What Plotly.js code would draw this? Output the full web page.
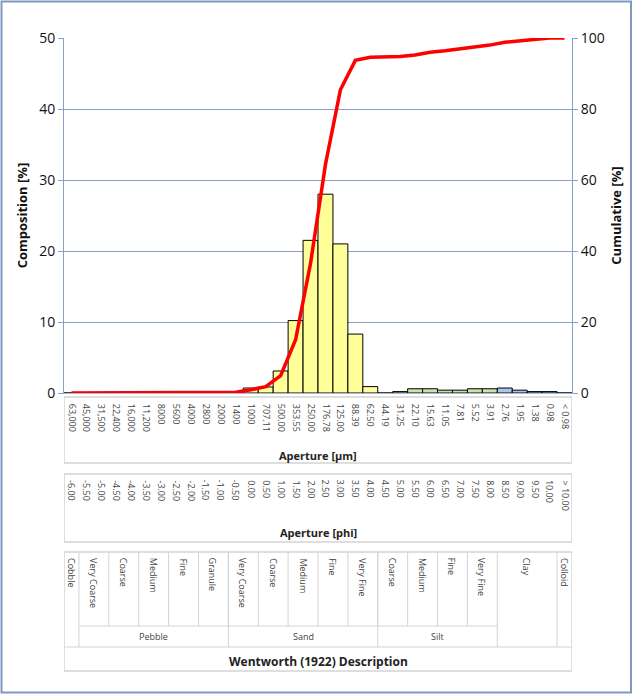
<!DOCTYPE html>
<html><head><meta charset="utf-8">
<script src="https://cdn.plot.ly/plotly-3.0.1.min.js"></script>
<style>html,body{margin:0;padding:0;background:#fff}#chart{width:633px;height:695px}</style>
</head><body><div id="chart"></div>
<script>
// ---- data ----
const apertureUm = ["63,000","45,000","31,500","22,400","16,000","11,200","8000","5600","4000","2800","2000","1400","1000","707.11","500.00","353.55","250.00","176.78","125.00","88.39","62.50","44.19","31.25","22.10","15.63","11.05","7.81","5.52","3.91","2.76","1.95","1.38","0.98","< 0.98"];
const aperturePhi = ["-6.00","-5.50","-5.00","-4.50","-4.00","-3.50","-3.00","-2.50","-2.00","-1.50","-1.00","-0.50","0.00","0.50","1.00","1.50","2.00","2.50","3.00","3.50","4.00","4.50","5.00","5.50","6.00","6.50","7.00","7.50","8.00","8.50","9.00","9.50","10.00","> 10.00"];
const composition = [0,0,0,0,0,0,0,0,0,0,0,0,0.7,0.85,3.1,10.2,21.5,28.0,21.0,8.3,0.9,0,0.2,0.6,0.6,0.4,0.4,0.6,0.6,0.7,0.4,0.2,0.2,0];
const cumulative = [0,0,0,0,0,0,0,0,0,0,0,0.2,0.9,1.8,4.9,15.0,36.5,64.4,85.4,93.7,94.6,94.7,94.8,95.2,96.0,96.4,96.9,97.4,98.0,98.8,99.2,99.8,100,100];
const classNames = ["Cobble","Very Coarse","Coarse","Medium","Fine","Granule","Very Coarse","Coarse","Medium","Fine","Very Fine","Coarse","Medium","Fine","Very Fine","Clay","Colloid"];
const classSpans = [1,2,2,2,2,2,2,2,2,2,2,2,2,2,2,4,1];
const groupNames = ["Pebble","Sand","Silt"];
const groupSpans = [10,10,8];

// ---- geometry helpers ----
const W=633,H=695,L=64,R=572,T=38,B=393;
const py = v => (B - v)/(B - T);
const px = v => (v - L)/(R - L);
const FONT = "Open Sans, Noto Sans, sans-serif";
const AX = "#8A9FC6";
const BOX = "#D3D3D3";
const SMALL = 9;

// bar colours by Wentworth group
const colors = composition.map((_, i) => {
  if (i >= 29 && i <= 32) return "#A9C6E6";
  if (i >= 21 && i <= 28) return "#C9E4A8";
  return "#FFFF99";
});

const shapes = [];
const annotations = [];
function hline(x0,x1,y,color){shapes.push({type:"line",xref:"x",yref:"paper",x0:x0,x1:x1,y0:py(y),y1:py(y),line:{color:color||BOX,width:1}});}
function vline(x,y0,y1,color){shapes.push({type:"line",xref:"x",yref:"paper",x0:x,x1:x,y0:py(y0),y1:py(y1),line:{color:color||BOX,width:1}});}
function rect(x0,x1,y0,y1){shapes.push({type:"rect",xref:"x",yref:"paper",x0:x0,x1:x1,y0:py(y0),y1:py(y1),line:{color:BOX,width:1.5}});}

// outer chart border
shapes.push({type:"rect",xref:"paper",yref:"paper",x0:px(1.5),x1:px(631),y0:py(1.5),y1:py(692.5),line:{color:"#7F98C2",width:2}});

const n = apertureUm.length;
const xl = -0.5, xr = n - 0.5;
// box 1: aperture um
rect(xl, xr, 397, 463);
annotations.push({xref:"paper",yref:"paper",x:0.5,y:py(455),text:"Aperture [µm]",showarrow:false,font:{family:FONT,size:11,color:"#222",weight:700},xanchor:"center",yanchor:"middle"});
// box 2: phi
rect(xl, xr, 474, 542);
aperturePhi.forEach((t,i)=>annotations.push({xref:"x",yref:"paper",x:i,y:py(478),text:t,textangle:90,showarrow:false,font:{family:FONT,size:SMALL,color:"#444"},xanchor:"center",yanchor:"top"}));
annotations.push({xref:"paper",yref:"paper",x:0.5,y:py(532),text:"Aperture [phi]",showarrow:false,font:{family:FONT,size:11,color:"#222",weight:700},xanchor:"center",yanchor:"middle"});
// box 3: Wentworth table
rect(xl, xr, 552, 671);
hline(xl, xr, 647);
let pos = -0.5;
const fullHeight = new Set(["Cobble","Clay","Colloid"]);
classNames.forEach((name,k)=>{
  const a = pos, b = pos + classSpans[k];
  annotations.push({xref:"x",yref:"paper",x:(a+b)/2,y:py(556),text:name,textangle:90,showarrow:false,font:{family:FONT,size:SMALL,color:"#444"},xanchor:"center",yanchor:"top"});
  if (k < classNames.length-1) {
    const nextFull = fullHeight.has(classNames[k+1]);
    vline(b, 552, (fullHeight.has(name)||nextFull) ? 647 : 626);
  }
  pos = b;
});
let gpos = 0.5;
groupNames.forEach((g,k)=>{
  const a = gpos, b = gpos + groupSpans[k];
  annotations.push({xref:"x",yref:"paper",x:(a+b)/2,y:py(636.5),text:g,showarrow:false,font:{family:FONT,size:SMALL,color:"#444"},xanchor:"center",yanchor:"middle"});
  if (k>0) vline(a, 552, 647);
  gpos = b;
});
hline(0.5, gpos, 626);
annotations.push({xref:"paper",yref:"paper",x:0.5,y:py(661),text:"Wentworth (1922) Description",showarrow:false,font:{family:FONT,size:12,color:"#222",weight:700},xanchor:"center",yanchor:"middle"});

const traces = [
  {type:"bar",x:apertureUm,y:composition,marker:{color:colors,line:{color:"#000",width:1}},yaxis:"y",hoverinfo:"skip"},
  {type:"scatter",mode:"lines",x:apertureUm,y:cumulative,yaxis:"y2",line:{color:"#FF0000",width:3.5},hoverinfo:"skip"}
];

const layout = {
  width:W,height:H,
  margin:{l:L,r:W-R,t:T,b:H-B,pad:0},
  paper_bgcolor:"#fff",plot_bgcolor:"#fff",
  showlegend:false,bargap:0,
  font:{family:FONT,size:14,color:"#111"},
  xaxis:{type:"category",categoryorder:"array",categoryarray:apertureUm,range:[xl,xr],
    showgrid:false,zeroline:false,showline:true,linecolor:"#A8B8D4",linewidth:1,
    ticks:"",tickangle:90,tickfont:{family:FONT,size:SMALL,color:"#444"},ticklabelstandoff:8,automargin:false},
  yaxis:{range:[0,50],dtick:10,showgrid:true,gridcolor:AX,gridwidth:1,zeroline:false,
    showline:true,linecolor:AX,linewidth:1,ticks:"outside",ticklen:5,tickcolor:AX,
    tickfont:{family:FONT,size:14,color:"#111"},automargin:false,
    title:{text:"Composition [%]",font:{family:FONT,size:13,color:"#111",weight:700},standoff:8}},
  yaxis2:{range:[0,100],dtick:20,overlaying:"y",side:"right",showgrid:false,zeroline:false,
    showline:true,linecolor:AX,linewidth:1,ticks:"outside",ticklen:5,tickcolor:AX,
    tickfont:{family:FONT,size:14,color:"#111"},automargin:false,
    title:{text:"Cumulative [%]",font:{family:FONT,size:13,color:"#111",weight:700},standoff:8}},
  shapes:shapes,annotations:annotations
};
Plotly.newPlot("chart",traces,layout,{staticPlot:true,displayModeBar:false});
</script></body></html>
